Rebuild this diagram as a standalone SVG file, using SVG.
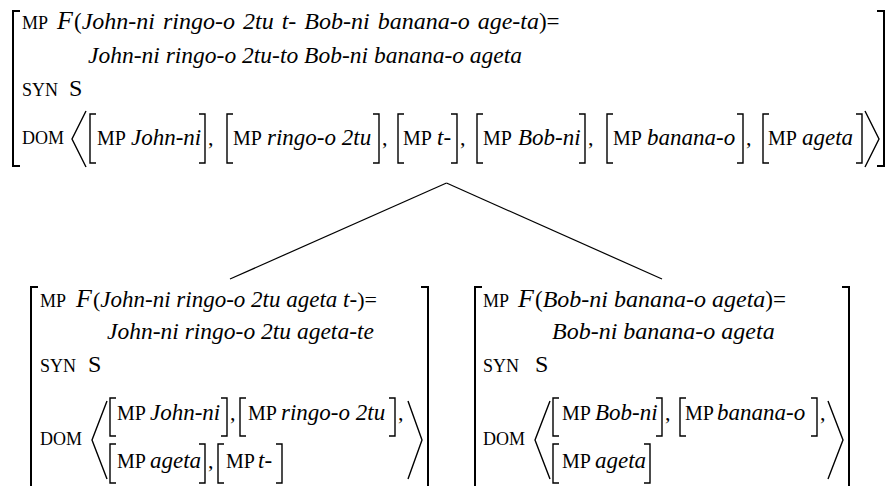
<svg xmlns="http://www.w3.org/2000/svg" width="885" height="486" viewBox="0 0 885 486">
<style>
text{font-family:"Liberation Serif","Times New Roman",serif;fill:#000}
.sc{font-size:18px}
.mp{font-size:20px}
.rm{font-size:22px}
.it{font-style:italic;font-size:23px}
.F{font-style:italic;font-size:26px}
.S{font-size:24px}
.ob{fill:none;stroke:#000;stroke-width:2}
.ib{fill:none;stroke:#000;stroke-width:1.4}
.ab{fill:none;stroke:#000;stroke-width:1.4}
.cn{fill:none;stroke:#000;stroke-width:1.2}
</style>
<rect width="885" height="486" fill="#fff"/>
<g id="connectors">
<line class="cn" x1="446.5" y1="183" x2="230" y2="279"/>
<line class="cn" x1="446.5" y1="183" x2="662" y2="279"/>
</g>
<g id="node-root">
<path class="ob" d="M20,11 H13 V166 H20"/>
<path class="ob" d="M877,11 H884 V166 H877"/>
<text class="sc" x="22" y="29">MP</text>
<text class="F" x="57" y="29">F</text>
<text class="rm" x="74" y="29" style="font-size:23px;word-spacing:2px">(<tspan class="it" style="font-size:24px">John-ni ringo-o 2tu t- Bob-ni banana-o age-ta</tspan>)=</text>
<text class="it" x="88" y="63" style="font-size:23.5px">John-ni ringo-o 2tu-to Bob-ni banana-o ageta</text>
<text class="sc" x="22" y="96">SYN</text>
<text class="S" x="69" y="96">S</text>
<text class="sc" x="22" y="144">DOM</text>
<path class="ab" d="M86,111 L72,139 L86,167"/>
<path class="ab" d="M865,111 L879,139 L865,167"/>
<path class="ib" d="M96,114 H90 V163 H96 M199,114 H205 V163 H199"/>
<text class="mp" x="97" y="145">MP</text><text class="it" x="131" y="145">John-ni</text><text class="rm" x="208" y="145">,</text>
<path class="ib" d="M233,114 H227 V163 H233 M373,114 H379 V163 H373"/>
<text class="mp" x="233" y="145">MP</text><text class="it" x="267" y="145">ringo-o 2tu</text><text class="rm" x="382" y="145">,</text>
<path class="ib" d="M404,114 H398 V163 H404 M451,114 H457 V163 H451"/>
<text class="mp" x="403" y="145">MP</text><text class="it" x="437" y="145">t-</text><text class="rm" x="460" y="145">,</text>
<path class="ib" d="M483,114 H477 V163 H483 M579,114 H585 V163 H579"/>
<text class="mp" x="483" y="145">MP</text><text class="it" x="518" y="145">Bob-ni</text><text class="rm" x="588" y="145">,</text>
<path class="ib" d="M613,114 H607 V163 H613 M737,114 H743 V163 H737"/>
<text class="mp" x="613" y="145">MP</text><text class="it" x="647" y="145">banana-o</text><text class="rm" x="746" y="145">,</text>
<path class="ib" d="M769,114 H763 V163 H769 M856,114 H862 V163 H856"/>
<text class="mp" x="768" y="145">MP</text><text class="it" x="802" y="145">ageta</text>
</g>
<g id="node-left">
<path class="ob" d="M38,287 H31 V487"/>
<path class="ob" d="M421,287 H428 V487"/>
<text class="sc" x="40" y="307">MP</text>
<text class="F" x="76" y="307">F</text>
<text class="rm" x="93" y="307">(<tspan class="it">John-ni ringo-o 2tu ageta t-</tspan>)=</text>
<text class="it" x="107" y="339" style="font-size:23.5px">John-ni ringo-o 2tu ageta-te</text>
<text class="sc" x="40" y="372">SYN</text>
<text class="S" x="88" y="372">S</text>
<text class="sc" x="40" y="445">DOM</text>
<path class="ab" d="M107,401 L92,440 L107,479"/>
<path class="ab" d="M408,401 L422,440 L408,479"/>
<path class="ib" d="M116,398 H110 V436 H116 M221,398 H227 V436 H221"/>
<text class="mp" x="117" y="420">MP</text><text class="it" x="150" y="420">John-ni</text><text class="rm" x="230" y="420">,</text>
<path class="ib" d="M246,398 H240 V436 H246 M389,398 H395 V436 H389"/>
<text class="mp" x="248" y="420">MP</text><text class="it" x="281" y="420">ringo-o 2tu</text><text class="rm" x="398" y="420">,</text>
<path class="ib" d="M116,444 H110 V483 H116 M199,444 H205 V483 H199"/>
<text class="mp" x="117" y="468">MP</text><text class="it" x="150" y="468">ageta</text><text class="rm" x="208" y="468">,</text>
<path class="ib" d="M224,444 H218 V483 H224 M276,444 H282 V483 H276"/>
<text class="mp" x="226" y="468">MP</text><text class="it" x="258" y="468">t-</text>
</g>
<g id="node-right">
<path class="ob" d="M482,287 H475 V487"/>
<path class="ob" d="M842,287 H849 V487"/>
<text class="sc" x="483" y="307">MP</text>
<text class="F" x="518" y="307">F</text>
<text class="rm" x="535" y="307" style="font-size:23px">(<tspan class="it" style="font-size:24px">Bob-ni banana-o ageta</tspan>)=</text>
<text class="it" x="552" y="339" style="font-size:24px">Bob-ni banana-o ageta</text>
<text class="sc" x="483" y="372">SYN</text>
<text class="S" x="535" y="372">S</text>
<text class="sc" x="483" y="445">DOM</text>
<path class="ab" d="M550,401 L535,440 L550,479"/>
<path class="ab" d="M828,401 L843,440 L828,479"/>
<path class="ib" d="M559,398 H553 V436 H559 M656,398 H662 V436 H656"/>
<text class="mp" x="562" y="420">MP</text><text class="it" x="595" y="420">Bob-ni</text><text class="rm" x="665" y="420">,</text>
<path class="ib" d="M686,398 H680 V436 H686 M811,398 H817 V436 H811"/>
<text class="mp" x="685" y="420">MP</text><text class="it" x="717" y="420">banana-o</text><text class="rm" x="820" y="420">,</text>
<path class="ib" d="M559,444 H553 V483 H559 M644,444 H650 V483 H644"/>
<text class="mp" x="562" y="468">MP</text><text class="it" x="595" y="468">ageta</text>
</g>
</svg>
